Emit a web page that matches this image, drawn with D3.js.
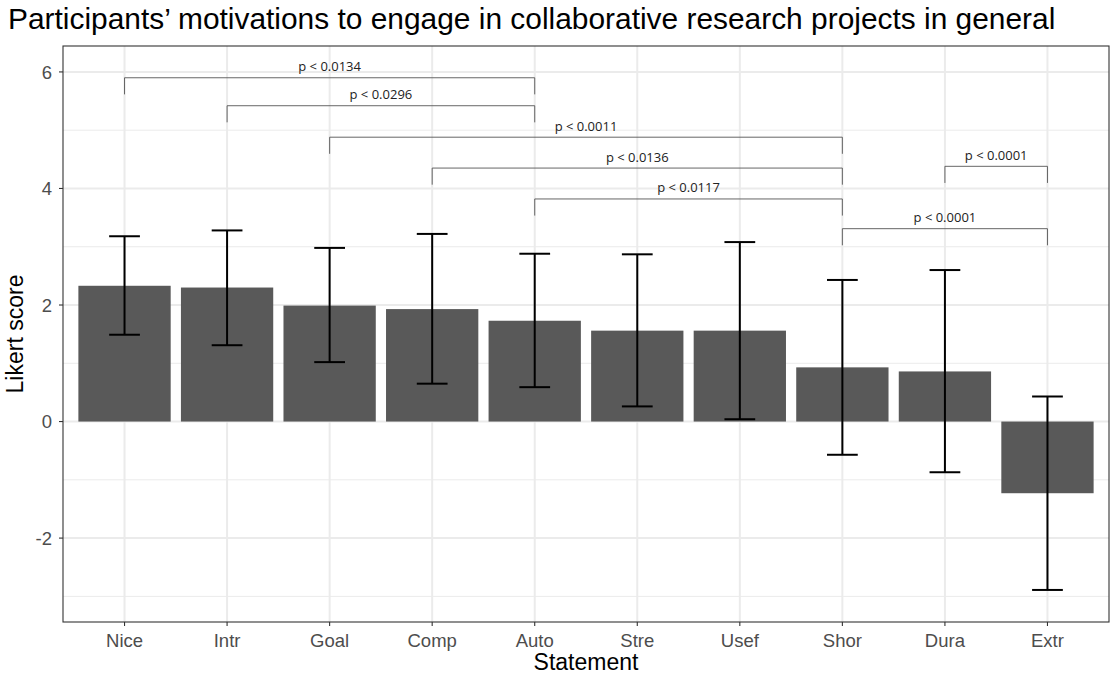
<!DOCTYPE html>
<html><head><meta charset="utf-8">
<script src="https://cdn.jsdelivr.net/npm/d3@7"></script>
<style>body{margin:0;background:#fff}</style>
</head><body>
<svg id="c" width="1110" height="677"></svg>
<script>
const categories = ["Nice","Intr","Goal","Comp","Auto","Stre","Usef","Shor","Dura","Extr"];
const means   = [2.33, 2.30, 1.99, 1.93, 1.73, 1.56, 1.56, 0.93, 0.86, -1.23];
const errLow  = [1.49, 1.31, 1.02, 0.65, 0.59, 0.26, 0.04, -0.57, -0.87, -2.89];
const errHigh = [3.18, 3.28, 2.98, 3.22, 2.88, 2.87, 3.08, 2.43, 2.60, 0.43];
const yTicks = [-2, 0, 2, 4, 6];
const yMinor = [-3, -1, 1, 3, 5];
const sigFrom  = ["Nice","Intr","Goal","Comp","Auto","Dura","Shor"];
const sigTo    = ["Auto","Auto","Shor","Shor","Shor","Extr","Extr"];
const sigY     = [5.90, 5.42, 4.88, 4.35, 3.82, 4.38, 3.31];
const sigLabel = ["p < 0.0134","p < 0.0296","p < 0.0011","p < 0.0136","p < 0.0117","p < 0.0001","p < 0.0001"];

const svg = d3.select("#c");
const L = 63, R = 1109, T = 46, B = 622;
const y = d3.scaleLinear().domain([-3.44, 6.445]).range([B, T]);
// discrete axis with ggplot-like 0.6-unit expansion each side
const x = d3.scalePoint().domain(categories).range([L, R]).padding(0.6);
const step = x.step();
const cx = c => x(c);

// grid
const g = svg.append("g");
yMinor.forEach(v => g.append("line").attr("x1", L).attr("x2", R).attr("y1", y(v)).attr("y2", y(v)).attr("stroke", "#ebebeb").attr("stroke-width", 1));
yTicks.forEach(v => g.append("line").attr("x1", L).attr("x2", R).attr("y1", y(v)).attr("y2", y(v)).attr("stroke", "#ebebeb").attr("stroke-width", 2));
categories.forEach(c => g.append("line").attr("x1", cx(c)).attr("x2", cx(c)).attr("y1", T).attr("y2", B).attr("stroke", "#ebebeb").attr("stroke-width", 2));

// bars
const bw = step * 0.9;
svg.append("g").selectAll("rect").data(categories).join("rect")
  .attr("x", c => cx(c) - bw / 2)
  .attr("width", bw)
  .attr("y", (c, i) => y(Math.max(0, means[i])))
  .attr("height", (c, i) => Math.abs(y(means[i]) - y(0)))
  .attr("fill", "#595959");

// error bars
const cap = step * 0.3;
const eb = svg.append("g").attr("stroke", "#000").attr("stroke-width", 2);
categories.forEach((c, i) => {
  eb.append("line").attr("x1", cx(c)).attr("x2", cx(c)).attr("y1", y(errLow[i])).attr("y2", y(errHigh[i]));
  eb.append("line").attr("x1", cx(c) - cap / 2).attr("x2", cx(c) + cap / 2).attr("y1", y(errLow[i])).attr("y2", y(errLow[i]));
  eb.append("line").attr("x1", cx(c) - cap / 2).attr("x2", cx(c) + cap / 2).attr("y1", y(errHigh[i])).attr("y2", y(errHigh[i]));
});

// significance brackets
const sg = svg.append("g");
const tip = 0.285;
sigFrom.forEach((f, i) => {
  const x1 = cx(f), x2 = cx(sigTo[i]), yy = y(sigY[i]), yt = y(sigY[i] - tip);
  sg.append("path").attr("d", `M${x1},${yt}V${yy}H${x2}V${yt}`).attr("fill", "none").attr("stroke", "#555").attr("stroke-width", 0.9);
  sg.append("text").attr("x", (x1 + x2) / 2).attr("y", yy - 6.5).attr("text-anchor", "middle")
    .attr("font-family", "Open Sans, Noto Sans, sans-serif").attr("font-size", 13).attr("fill", "#222").text(sigLabel[i]);
});

// panel border
svg.append("rect").attr("x", L).attr("y", T).attr("width", R - L).attr("height", B - T).attr("fill", "none").attr("stroke", "#333").attr("stroke-width", 1.1);

// axes
const font = "Liberation Sans, Arial, sans-serif";
const ya = svg.append("g");
yTicks.forEach(v => {
  ya.append("line").attr("x1", L - 4).attr("x2", L).attr("y1", y(v)).attr("y2", y(v)).attr("stroke", "#333").attr("stroke-width", 1.1);
  ya.append("text").attr("x", L - 11).attr("y", y(v)).attr("dy", "0.36em").attr("text-anchor", "end")
    .attr("font-family", font).attr("font-size", 18.5).attr("fill", "#4d4d4d").text(v);
});
const xa = svg.append("g");
categories.forEach(c => {
  xa.append("line").attr("x1", cx(c)).attr("x2", cx(c)).attr("y1", B).attr("y2", B + 4).attr("stroke", "#333").attr("stroke-width", 1.1);
  xa.append("text").attr("x", cx(c)).attr("y", 647).attr("text-anchor", "middle")
    .attr("font-family", font).attr("font-size", 18.5).attr("fill", "#4d4d4d").text(c);
});

svg.append("text").attr("x", (L + R) / 2).attr("y", 670).attr("text-anchor", "middle")
  .attr("font-family", font).attr("font-size", 23).attr("fill", "#000").text("Statement");
svg.append("text").attr("transform", `translate(23,${(T + B) / 2}) rotate(-90)`).attr("text-anchor", "middle")
  .attr("font-family", font).attr("font-size", 23).attr("fill", "#000").text("Likert score");
svg.append("text").attr("x", 8).attr("y", 29)
  .attr("font-family", font).attr("font-size", 29.9).attr("fill", "#000")
  .text("Participants’ motivations to engage in collaborative research projects in general");
</script>
</body></html>
